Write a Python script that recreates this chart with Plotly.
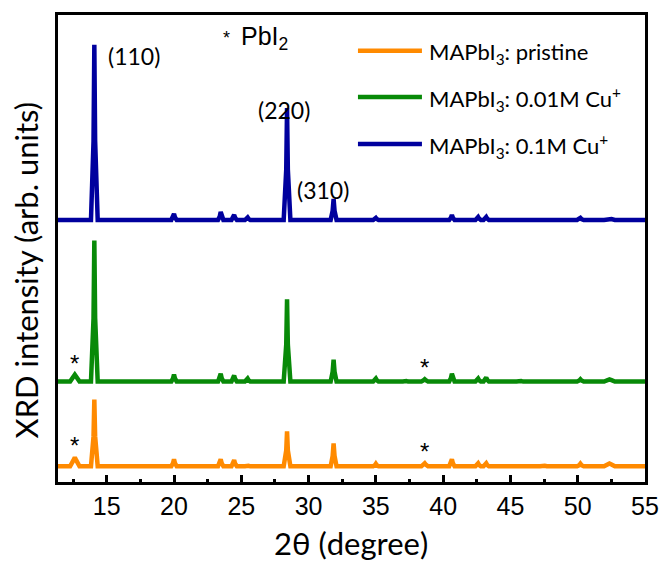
import plotly.graph_objects as go

# 2-theta sampling points (degrees), shared by the three patterns
two_theta = [
    11.38,
    12.28, 12.51, 12.63, 12.75, 12.98,
    13.83, 14.02, 14.08, 14.14, 14.33,
    19.80, 19.93, 20.00, 20.07, 20.20,
    23.27, 23.40, 23.47, 23.54, 23.67,
    24.27, 24.40, 24.47, 24.54, 24.67,
    25.27, 25.40, 25.47, 25.54, 25.67,
    28.15, 28.34, 28.40, 28.46, 28.65,
    31.64, 31.79, 31.86, 31.93, 32.08,
    34.80, 34.93, 35.00, 35.07, 35.20,
    37.00, 37.13, 37.20, 37.27, 37.40,
    38.38, 38.55, 38.63, 38.71, 38.88,
    40.45, 40.58, 40.65, 40.72, 40.85,
    42.40, 42.53, 42.60, 42.67, 42.80,
    43.00, 43.13, 43.20, 43.27, 43.40,
    45.45, 45.60, 45.70, 45.80, 45.95,
    47.20, 47.35, 47.45, 47.55, 47.70,
    49.95, 50.12, 50.20, 50.28, 50.45,
    51.96, 52.21, 52.36, 52.51, 52.76,
    55.00,
]

# Relative intensities (arb. units)
pristine = [
    0,
    0, 1.2, 1.9, 1.2, 0,
    0, 6.4, 14.3, 6.4, 0,
    0, 0.7, 1.5, 0.7, 0,
    0, 0.7, 1.5, 0.7, 0,
    0, 0.6, 1.3, 0.6, 0,
    0, 0.1, 0.2, 0.1, 0,
    0, 3.4, 7.5, 3.4, 0,
    0, 2.2, 4.9, 2.2, 0,
    0, 0.25, 0.55, 0.25, 0,
    0, 0.05, 0.1, 0.05, 0,
    0, 0.35, 0.65, 0.35, 0,
    0, 0.7, 1.5, 0.7, 0,
    0, 0.3, 0.65, 0.3, 0,
    0, 0.3, 0.65, 0.3, 0,
    0, 0.05, 0.1, 0.05, 0,
    0, 0.1, 0.2, 0.1, 0,
    0, 0.25, 0.55, 0.25, 0,
    0, 0.4, 0.6, 0.4, 0,
    0,
]

cu_001 = [
    0,
    0, 1.0, 1.5, 1.0, 0,
    0, 13.6, 30.2, 13.6, 0,
    0, 0.7, 1.5, 0.7, 0,
    0, 0.75, 1.7, 0.75, 0,
    0, 0.6, 1.3, 0.6, 0,
    0, 0.3, 0.65, 0.3, 0,
    0, 7.9, 17.6, 7.9, 0,
    0, 2.1, 4.7, 2.1, 0,
    0, 0.3, 0.65, 0.3, 0,
    0, 0.1, 0.2, 0.1, 0,
    0, 0.3, 0.5, 0.3, 0,
    0, 0.75, 1.7, 0.75, 0,
    0, 0.3, 0.65, 0.3, 0,
    0, 0.4, 0.85, 0.4, 0,
    0, 0.1, 0.2, 0.1, 0,
    0, 0.1, 0.2, 0.1, 0,
    0, 0.25, 0.5, 0.25, 0,
    0, 0.3, 0.45, 0.3, 0,
    0,
]

cu_01 = [
    0,
    0, 0, 0, 0, 0,
    0, 16.9, 37.5, 16.9, 0,
    0, 0.6, 1.3, 0.6, 0,
    0, 0.75, 1.7, 0.75, 0,
    0, 0.5, 1.1, 0.5, 0,
    0, 0.25, 0.55, 0.25, 0,
    0, 10.8, 24.0, 10.8, 0,
    0, 2.0, 4.5, 2.0, 0,
    0, 0.2, 0.45, 0.2, 0,
    0, 0.05, 0.1, 0.05, 0,
    0, 0, 0, 0, 0,
    0, 0.5, 1.1, 0.5, 0,
    0, 0.3, 0.65, 0.3, 0,
    0, 0.3, 0.65, 0.3, 0,
    0, 0.05, 0.1, 0.05, 0,
    0, 0.05, 0.1, 0.05, 0,
    0, 0.2, 0.45, 0.2, 0,
    0, 0.2, 0.3, 0.2, 0,
    0,
]

series_names = ["MAPbI<sub>3</sub>: pristine",
                "MAPbI<sub>3</sub>: 0.01M Cu<sup>+</sup>",
                "MAPbI<sub>3</sub>: 0.1M Cu<sup>+</sup>"]
series_values = [pristine, cu_001, cu_01]
offsets = [3.36, 21.5, 56.1]
colors = ["#FF8A00", "#088A08", "#00009E"]

pbi2_positions = [12.63, 38.63]
tick_values = [15, 20, 25, 30, 35, 40, 45, 50, 55]
miller_labels = ["(110)", "(220)", "(310)"]

fig = go.Figure()
for name, vals, off, col in zip(series_names, series_values, offsets, colors):
    fig.add_trace(go.Scatter(
        x=two_theta, y=[v + off for v in vals], mode="lines", name=name,
        line=dict(color=col, width=4.5), showlegend=False,
    ))

# manual legend (line swatches + labels)
leg_rows = [0.9236, 0.8242, 0.7237]
for name, col, yr in zip(series_names, colors, leg_rows):
    fig.add_shape(type="line", xref="paper", yref="paper",
                  x0=0.511, x1=0.620, y0=yr, y1=yr,
                  line=dict(color=col, width=4.5))
    fig.add_annotation(xref="paper", yref="paper", x=0.6286, y=yr,
                       text=name, showarrow=False, xanchor="left",
                       yanchor="middle", yshift=-2,
                       font=dict(family="Lato", size=22, color="black"))

# PbI2 asterisks above the impurity peaks
pbi2_rows = [(pristine, offsets[0]), (cu_001, offsets[1])]
for vals, off in pbi2_rows:
    for pos in pbi2_positions:
        idx = two_theta.index(pos)
        fig.add_annotation(x=pos, y=vals[idx] + off, text="*", showarrow=False,
                           xanchor="center", yanchor="bottom", yshift=-4,
                           font=dict(family="Liberation Sans", size=24, color="black"))

# Miller index labels
miller_pos = [(17.0, 91.2), (28.15, 79.7), (31.08, 62.5)]
for lab, (mx, my) in zip(miller_labels, miller_pos):
    fig.add_annotation(x=mx, y=my, text=lab, showarrow=False,
                       xanchor="center", yanchor="middle",
                       font=dict(family="Lato", size=23, color="black"))

# "* PbI2" key
fig.add_annotation(xref="paper", yref="paper", x=(229 - 58) / 595, y=(482 - 38) / 467,
                   text="*", showarrow=False, xanchor="center", yanchor="middle",
                   font=dict(family="Liberation Sans", size=18, color="black"))
fig.add_annotation(xref="paper", yref="paper", x=(241 - 58) / 595, y=(482 - 38) / 467,
                   text="PbI<sub>2</sub>", showarrow=False, xanchor="left",
                   yanchor="middle",
                   font=dict(family="Liberation Sans", size=25, color="black"))

# axis titles
fig.add_annotation(xref="paper", yref="paper", x=(355 - 58) / 595, y=(482 - 543) / 467,
                   text="2θ (degree)", showarrow=False,
                   xanchor="center", yanchor="middle",
                   font=dict(family="Lato", size=31, color="black"))
fig.add_annotation(xref="paper", yref="paper", x=(26 - 58) / 595, y=(482 - 270) / 467,
                   text="XRD intensity (arb. units)", showarrow=False, textangle=-90,
                   xanchor="center", yanchor="middle",
                   font=dict(family="Lato", size=31, color="black"))

fig.update_xaxes(range=[11.38, 55], tickmode="array", tickvals=tick_values,
                 ticktext=[str(t) for t in tick_values],
                 ticks="inside", ticklen=7, tickwidth=2.5, tickcolor="black",
                 minor=dict(ticks="inside", ticklen=3.5, tickwidth=2.5,
                            tickcolor="black", dtick=2.5, tick0=0),
                 showline=True, linewidth=3, linecolor="black", mirror=True,
                 showgrid=False, zeroline=False,
                 tickfont=dict(family="Liberation Sans", size=25, color="black"))
fig.update_yaxes(range=[0, 100], showticklabels=False, ticks="",
                 showline=True, linewidth=3, linecolor="black", mirror=True,
                 showgrid=False, zeroline=False)

fig.update_layout(width=671, height=561,
                  margin=dict(l=58, r=18, t=15, b=79),
                  plot_bgcolor="white", paper_bgcolor="white")

fig.write_html("out.html")
